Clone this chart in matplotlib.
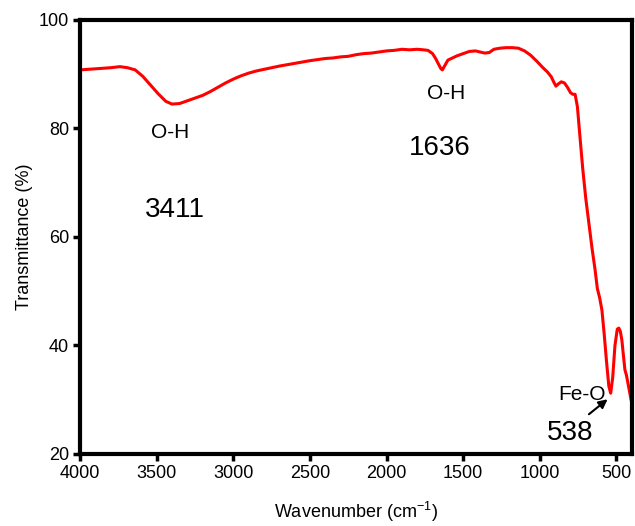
import numpy as np
import matplotlib.pyplot as plt

plt.rcParams['font.family'] = ['Liberation Sans', 'DejaVu Sans']

# FTIR spectrum, read point by point
wavenumber = [4000, 3900, 3800, 3740, 3690, 3640, 3590, 3540, 3490, 3440, 3400, 3350,
              3300, 3250, 3200, 3150, 3100, 3050, 3000, 2950, 2900, 2850, 2800, 2700,
              2600, 2500, 2450, 2400, 2350, 2300, 2250, 2200, 2150, 2100, 2050, 2000,
              1950, 1900, 1850, 1800, 1760, 1730, 1700, 1680, 1660, 1645, 1636, 1620,
              1600, 1570, 1540, 1500, 1460, 1420, 1390, 1360, 1330, 1300, 1260, 1220,
              1180, 1140, 1100, 1060, 1020, 980, 950, 925, 910, 895, 880, 860, 840,
              820, 800, 785, 770, 755, 740, 720, 700, 680, 660, 640, 625, 610, 595,
              580, 565, 550, 538, 525, 510, 495, 485, 475, 465, 455, 445, 435, 425,
              415, 405, 400]
transmittance = [90.8, 91.0, 91.2, 91.4, 91.2, 90.8, 89.6, 88.0, 86.4, 85.0, 84.5, 84.6,
                 85.1, 85.6, 86.1, 86.8, 87.6, 88.4, 89.1, 89.7, 90.2, 90.6, 90.9, 91.5,
                 92.0, 92.5, 92.7, 92.9, 93.0, 93.2, 93.3, 93.6, 93.8, 93.9, 94.1, 94.3,
                 94.4, 94.6, 94.5, 94.6, 94.5, 94.4, 93.8, 92.9, 91.8, 91.0, 90.8, 91.6,
                 92.6, 93.0, 93.4, 93.8, 94.2, 94.3, 94.1, 93.9, 94.0, 94.6, 94.8, 94.9,
                 94.9, 94.8, 94.3, 93.5, 92.4, 91.2, 90.4, 89.5, 88.6, 87.8, 88.2, 88.6,
                 88.4, 87.6, 86.6, 86.3, 86.3, 84.0, 79.0, 72.5, 67.0, 62.5, 58.0, 54.0,
                 50.5, 48.8, 46.5, 42.0, 37.0, 32.5, 31.2, 34.0, 40.0, 43.0, 43.2, 42.6,
                 41.0, 38.2, 35.5, 34.5, 33.0, 31.5, 30.0, 29.5]

tick_vals = [4000, 3500, 3000, 2500, 2000, 1500, 1000, 500]
y_ticks = [20, 40, 60, 80, 100]

fig = plt.figure(figsize=(6.35, 5.26), dpi=100)
ax = fig.add_axes([0.126, 0.137, 0.869, 0.825])

ax.plot(wavenumber, transmittance, color='#ff0000', lw=2.2)

ax.set_xlim(4000, 400)
ax.set_ylim(20, 100)
ax.set_xticks(tick_vals)
ax.set_yticks(y_ticks)
ax.tick_params(direction='out', length=5, width=2.5, labelsize=13, pad=3)
for s in ax.spines.values():
    s.set_linewidth(3)

ax.set_xlabel('Wavenumber (cm$^{\\mathregular{-1}}$)', fontsize=13, labelpad=13)
ax.set_ylabel('Transmittance (%)', fontsize=13, labelpad=4)

# peak labels
ax.text(3411, 79.3, 'O-H', fontsize=15, ha='center', va='center')
ax.text(3380, 65.0, '3411', fontsize=20, ha='center', va='center')
ax.text(1610, 86.4, 'O-H', fontsize=15, ha='center', va='center')
ax.text(1655, 76.4, '1636', fontsize=20, ha='center', va='center')
ax.text(725, 31.0, 'Fe-O', fontsize=15, ha='center', va='center')
ax.text(805, 23.9, '538', fontsize=20, ha='center', va='center')
ax.annotate('', xy=(544, 30.4), xytext=(694, 27.0),
            arrowprops=dict(arrowstyle='-|>', color='black', lw=1.5, mutation_scale=13))

fig.savefig('out.png', dpi=100)
